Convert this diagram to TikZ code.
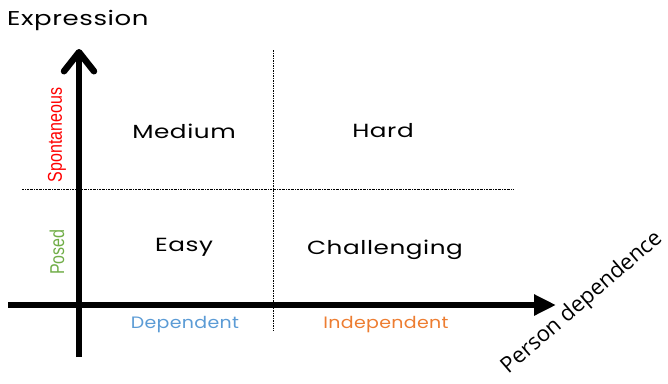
\documentclass[tikz,border=0pt]{standalone}
\usepackage{fontspec}
\setmainfont{Poppins}[FakeStretch=1.3, LetterSpace=3]
\newfontfamily\levelfont{Poppins}[FakeStretch=1.15, LetterSpace=2]
\newfontfamily\narrowfont[FakeStretch=0.8]{Liberation Sans}
\newfontfamily\axisfont{Open Sans}
\usepackage{xcolor}
\usetikzlibrary{arrows.meta, positioning}

\definecolor{spontred}{HTML}{FF0000}
\definecolor{posedgreen}{HTML}{70AD47}
\definecolor{depblue}{HTML}{5B9BD5}
\definecolor{indeporange}{HTML}{ED7D31}

\begin{document}
\begin{tikzpicture}[
    x=1pt, y=-1pt,
    cell/.style={font=\fontsize{19}{22}\selectfont, inner sep=0pt},
    side/.style={font=\narrowfont\fontsize{20}{23}\selectfont, rotate=90, inner sep=0pt},
    bottom/.style={font=\levelfont\fontsize{16.5}{19}\selectfont, inner sep=0pt},
    axis/.style={line width=6.5pt},
    grid/.style={line width=0.6pt, dash pattern=on 2pt off 1pt on 0.5pt off 1pt}
  ]
  \useasboundingbox (0,0) rectangle (668,383);

  % axes
  \coordinate (yfoot) at (79,357);
  \coordinate (ytip) at (79,49);
  \coordinate (xfoot) at (8,305);
  \coordinate (xtip) at (556,305);
  \draw[axis, -{Straight Barb[length=19pt, width=30pt, round]}] (yfoot) -- (ytip);
  \draw[axis, -{Triangle[length=22pt, width=20pt]}] (xfoot) -- (xtip);

  % quadrant separators
  \coordinate (hleft) at (22,189);
  \coordinate (hright) at (513,189);
  \coordinate (vtop) at (273,50);
  \coordinate (vbot) at (273,331);
  \draw[grid] (hleft) -- (hright);
  \draw[grid, dash pattern=on 1.5pt off 1pt] (vtop) -- (vbot);

  % axis titles
  \node[font=\fontsize{20}{23}\selectfont, inner sep=0pt, anchor=west] (expr) at (7,20) {Expression};
  \node[font=\axisfont\fontsize{22}{26}\selectfont, inner sep=0pt, rotate=41] (person) at (582,303) {Person dependence};

  % expression levels
  \node[side, text=spontred] (spont) at (57,135) {Spontaneous};
  \node[side, text=posedgreen] (posed) at (57,252) {Posed};

  % dependence levels
  \node[bottom, text=depblue] (dep) at (185,325) {Dependent};
  \node[bottom, text=indeporange] (indep) at (386,325) {Independent};

  % difficulty per quadrant
  \node[cell] (medium) at (184,131) {Medium};
  \node[cell] (hard) at (383,131) {Hard};
  \node[cell] (easy) at (184,247) {Easy};
  \node[cell] (chall) at (385,250) {Challenging};
\end{tikzpicture}
\end{document}
